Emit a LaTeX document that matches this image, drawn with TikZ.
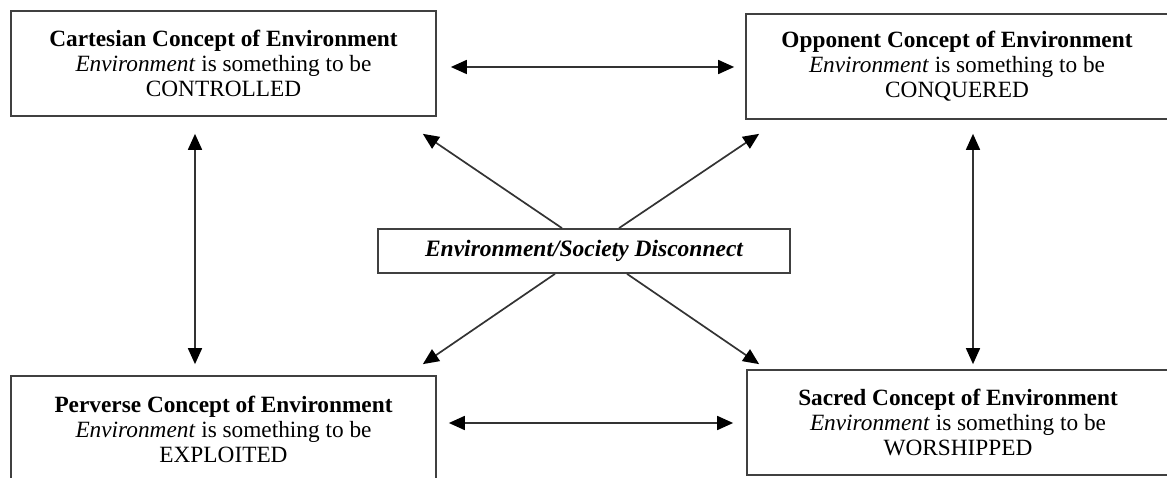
\documentclass[tikz,border=0pt]{standalone}
\usepackage{fontspec}
\setmainfont{Liberation Serif}
\usetikzlibrary{arrows.meta,calc}
\begin{document}
\begin{tikzpicture}[x=1pt,y=-1pt,
  concept/.style={draw=black!75, line width=1.7pt, fill=white, align=center,
    inner sep=0pt, font=\fontsize{23.3}{25}\selectfont},
  hub/.style={draw=black!75, line width=1.7pt, fill=white, align=center,
    inner sep=0pt, font=\fontsize{23.5}{25}\selectfont\bfseries\itshape},
  head/.tip={Triangle[length=16pt,width=14pt,color=black]},
  link/.style={draw=black!80, line width=1.7pt, head-head},
  spoke/.style={draw=black!80, line width=1.7pt, -head}]
\useasboundingbox (0,0) rectangle (1167,478);

% the four concepts of environment
\node[concept, minimum width=425pt, minimum height=105pt] (cart) at (223.5,63.5)
  {\textbf{Cartesian Concept of Environment}\\ \textit{Environment} is something to be\\ CONTROLLED};
\node[concept, minimum width=422pt, minimum height=105pt] (opp) at (957,66.5)
  {\textbf{Opponent Concept of Environment}\\ \textit{Environment} is something to be\\ CONQUERED};
\node[concept, minimum width=425pt, minimum height=106pt] (perv) at (223.5,429)
  {\textbf{Perverse Concept of Environment}\\ \textit{Environment} is something to be\\ EXPLOITED};
\node[concept, minimum width=422pt, minimum height=105pt] (sacr) at (958,422.5)
  {\textbf{Sacred Concept of Environment}\\ \textit{Environment} is something to be\\ WORSHIPPED};

% the central disconnect
\node[hub, minimum width=412pt, minimum height=44pt] (disc) at (584,251)
  {Environment/Society Disconnect};

% anchor points for the two-way links
\coordinate (topL) at ($(cart.east)+(0,3.5)$);
\coordinate (botL) at ($(perv.east)+(0,-6)$);
\coordinate (leftV) at ($(cart.south)+(-28.5,0)$);
\coordinate (rightV) at ($(opp.south)+(16,0)$);

% two-way links between neighbouring concepts
\draw[link, shorten <=14pt, shorten >=11pt] (topL) -- (topL -| opp.west);
\draw[link, shorten <=12pt, shorten >=13pt] (botL) -- (botL -| sacr.west);
\draw[link, shorten <=17pt, shorten >=11pt] (leftV) -- (leftV |- perv.north);
\draw[link, shorten <=14pt, shorten >=5pt] (rightV) -- (rightV |- sacr.north);

% spokes from the disconnect to each concept
\draw[spoke] ($(disc.north)+(-22,0)$) -- ($(cart.south east)+(-14,17)$);
\draw[spoke] ($(disc.north)+(35,0)$) -- ($(opp.south west)+(14,14)$);
\draw[spoke] ($(disc.south)+(-29,0)$) -- ($(perv.north east)+(-14,-11)$);
\draw[spoke] ($(disc.south)+(43,0)$) -- ($(sacr.north west)+(13,-5)$);
\end{tikzpicture}
\end{document}
